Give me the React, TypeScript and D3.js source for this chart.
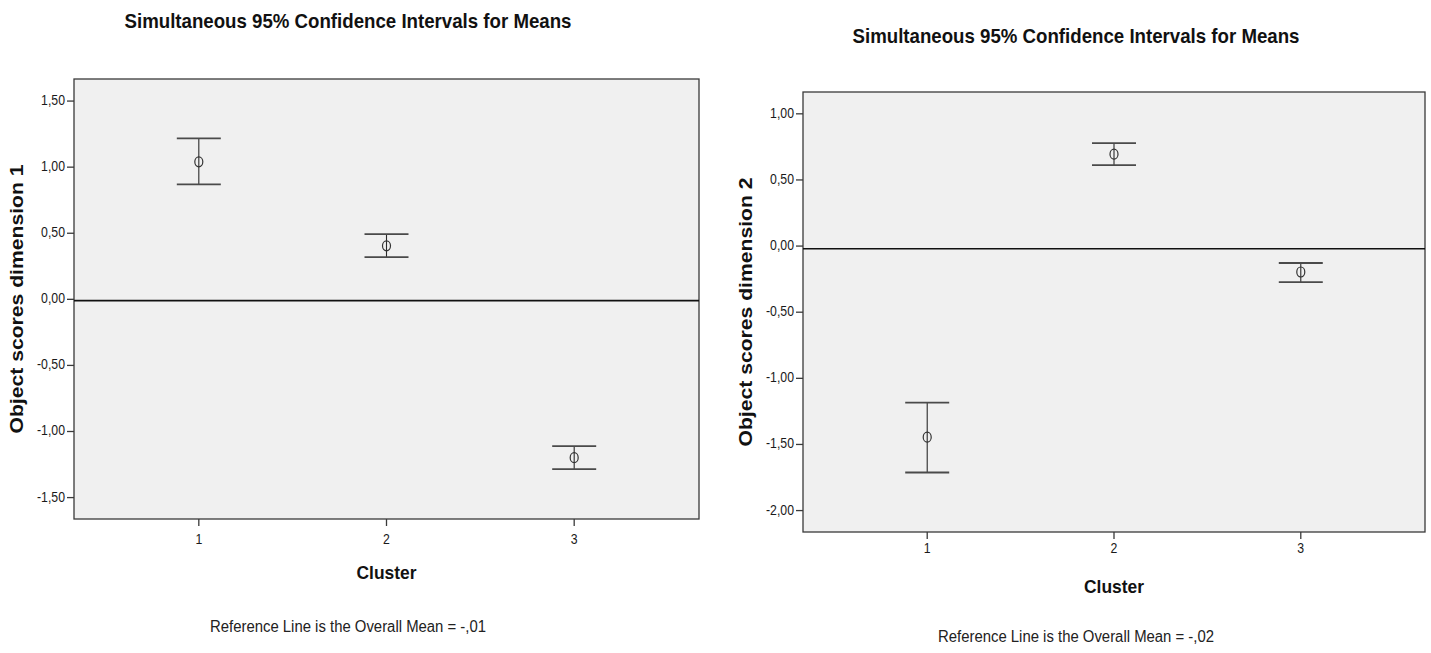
import React, { useEffect } from "react";
import * as d3 from "d3";

// values
const clusters = ["1", "2", "3"];

const dim1Mean = [1.04, 0.405, -1.198];
const dim1Lower = [0.87, 0.32, -1.284];
const dim1Upper = [1.218, 0.494, -1.11];
const dim1Ticks = [1.5, 1, 0.5, 0, -0.5, -1, -1.5];
const dim1Ref = -0.01;

const dim2Mean = [-1.445, 0.695, -0.196];
const dim2Lower = [-1.712, 0.612, -0.272];
const dim2Upper = [-1.183, 0.778, -0.128];
const dim2Ticks = [1, 0.5, 0, -0.5, -1, -1.5, -2];
const dim2Ref = -0.02;

const titleText = "Simultaneous 95% Confidence Intervals for Means";
const xLabel = "Cluster";

const sans = "'Liberation Sans', Arial, sans-serif";

const fmt = (v) => {
  const s = d3.format(".2f")(Math.abs(v)).replace(".", ",");
  return v < 0 ? "-" + s : s;
};
const fmtRef = (v) => {
  // SPSS style: -,01
  const s = d3.format(".2f")(Math.abs(v)).replace(".", ",").replace(/^0/, "");
  return v < 0 ? "-" + s : s;
};

// narrow text, like the Arial Narrow that SPSS uses
function Narrow({ x, y, anchor = "middle", size, sx = 0.82, children }) {
  return (
    <text transform={`translate(${x},${y}) scale(${sx},1)`} textAnchor={anchor} dominantBaseline="middle"
      style={{ fontSize: size, fill: "#1a1a1a" }}>
      {children}
    </text>
  );
}

function Panel({ box, yDomain, means, lower, upper, ticks, refMean, yLabel, cx, titleY, labelX, tickLabelY, clusterY, noteY }) {
  const x = d3.scaleLinear().domain([1 - 0.665, 3 + 0.665]).range([box.left, box.right]);
  const y = d3.scaleLinear().domain(yDomain).range([box.bottom, box.top]);
  const xPos = (i) => x(i + 1);
  const cap = 22;
  const midY = (box.top + box.bottom) / 2;

  return (
    <g style={{ fontFamily: sans }}>
      <text x={cx} y={titleY} textAnchor="middle" dominantBaseline="middle"
        textLength={447} lengthAdjust="spacingAndGlyphs"
        style={{ fontSize: 21, fontWeight: "bold", fill: "#111" }}>
        {titleText}
      </text>

      <rect x={box.left} y={box.top} width={box.right - box.left} height={box.bottom - box.top}
        fill="#f0f0f0" stroke="#3a3a3a" strokeWidth={1.3} />

      {/* reference line */}
      <line x1={box.left} x2={box.right} y1={y(refMean)} y2={y(refMean)} stroke="#111" strokeWidth={1.6} />

      {/* y axis */}
      {ticks.map((t) => (
        <g key={t}>
          <line x1={box.left - 7} x2={box.left} y1={y(t)} y2={y(t)} stroke="#3a3a3a" strokeWidth={1.3} />
          <Narrow x={box.left - 9} y={y(t)} anchor="end" size={15}>{fmt(t)}</Narrow>
        </g>
      ))}

      {/* x axis */}
      {clusters.map((c, i) => (
        <g key={c}>
          <line x1={xPos(i)} x2={xPos(i)} y1={box.bottom} y2={box.bottom + 7} stroke="#3a3a3a" strokeWidth={1.3} />
          <Narrow x={xPos(i)} y={tickLabelY} size={15}>{c}</Narrow>
        </g>
      ))}

      {/* error bars */}
      {clusters.map((c, i) => (
        <g key={"eb" + c}>
          <line x1={xPos(i)} x2={xPos(i)} y1={y(upper[i])} y2={y(lower[i])} stroke="#2a2a2a" strokeWidth={1.1} />
          <line x1={xPos(i) - cap} x2={xPos(i) + cap} y1={y(upper[i])} y2={y(upper[i])} stroke="#4a4a4a" strokeWidth={1.8} />
          <line x1={xPos(i) - cap} x2={xPos(i) + cap} y1={y(lower[i])} y2={y(lower[i])} stroke="#4a4a4a" strokeWidth={1.8} />
          <ellipse cx={xPos(i)} cy={y(means[i])} rx={4} ry={5} fill="none" stroke="#333" strokeWidth={1.2} />
        </g>
      ))}

      <text x={labelX} y={midY} textAnchor="middle" dominantBaseline="middle"
        transform={`rotate(-90, ${labelX}, ${midY})`}
        textLength={269} lengthAdjust="spacingAndGlyphs"
        style={{ fontSize: 18.5, fontWeight: "bold", fill: "#111" }}>
        {yLabel}
      </text>

      <text x={(box.left + box.right) / 2} y={clusterY} textAnchor="middle" dominantBaseline="middle"
        textLength={60} lengthAdjust="spacingAndGlyphs"
        style={{ fontSize: 19, fontWeight: "bold", fill: "#111" }}>
        {xLabel}
      </text>

      <text x={cx} y={noteY} textAnchor="middle" dominantBaseline="middle"
        textLength={276} lengthAdjust="spacingAndGlyphs"
        style={{ fontSize: 16, fill: "#222" }}>
        {"Reference Line is the Overall Mean = " + fmtRef(refMean)}
      </text>
    </g>
  );
}

export default function App() {
  useEffect(() => {
    document.body.style.margin = "0";
  }, []);

  return (
    <svg width={1431} height={653} style={{ display: "block", background: "#fff" }}>
      <Panel
        box={{ left: 74, right: 699, top: 79, bottom: 519 }}
        yDomain={[-1.662, 1.667]}
        means={dim1Mean}
        lower={dim1Lower}
        upper={dim1Upper}
        ticks={dim1Ticks}
        refMean={dim1Ref}
        yLabel="Object scores dimension 1"
        cx={348}
        titleY={22}
        labelX={18}
        tickLabelY={540}
        clusterY={574}
        noteY={628}
      />
      <Panel
        box={{ left: 803, right: 1425, top: 92, bottom: 532 }}
        yDomain={[-2.162, 1.165]}
        means={dim2Mean}
        lower={dim2Lower}
        upper={dim2Upper}
        ticks={dim2Ticks}
        refMean={dim2Ref}
        yLabel="Object scores dimension 2"
        cx={1076}
        titleY={37}
        labelX={747}
        tickLabelY={549}
        clusterY={588}
        noteY={638}
      />
    </svg>
  );
}
